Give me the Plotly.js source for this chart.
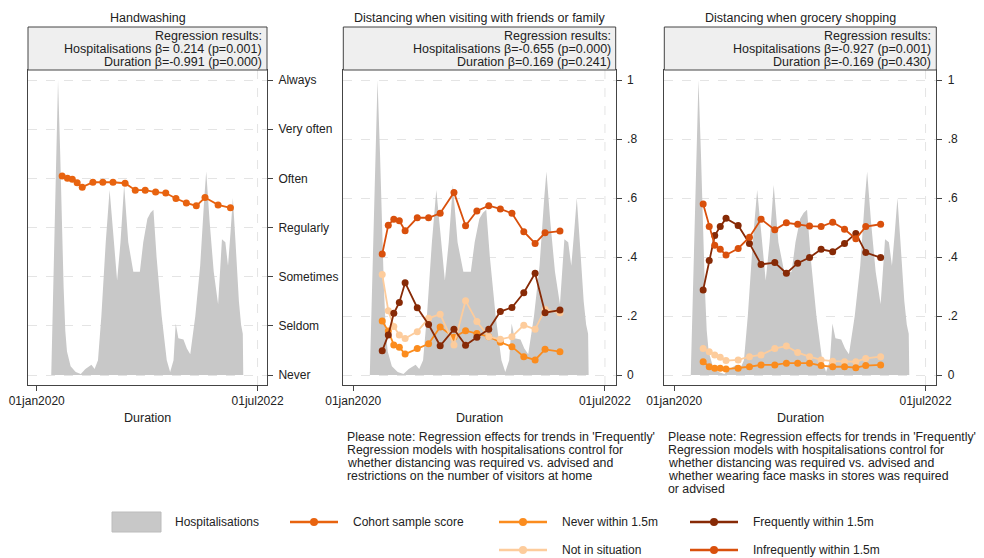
<!DOCTYPE html>
<html>
<head>
<meta charset="utf-8">
<script src="https://cdn.plot.ly/plotly-3.0.1.min.js"></script>
<style>html,body{margin:0;padding:0;background:#fff}#chart{width:984px;height:558px}</style>
</head>
<body>
<div id="chart"></div>
<script>
// ---------- DATA ----------
const hospDates = ['2020-03-01','2020-03-15','2020-03-29','2020-04-07','2020-04-14','2020-04-21','2020-04-28','2020-05-05','2020-05-20','2020-06-10','2020-07-01','2020-07-20','2020-08-14','2020-08-27','2020-09-10','2020-09-24','2020-10-12','2020-10-28','2020-11-12','2020-11-28','2020-12-12','2020-12-27','2021-01-13','2021-02-03','2021-02-16','2021-03-02','2021-03-16','2021-04-02','2021-04-15','2021-04-27','2021-05-10','2021-05-31','2021-06-21','2021-07-05','2021-07-19','2021-07-28','2021-08-08','2021-08-29','2021-09-12','2021-09-26','2021-10-17','2021-11-06','2021-11-23','2021-12-01','2021-12-15','2022-01-01','2022-01-19','2022-02-04','2022-02-18','2022-03-01','2022-03-11','2022-03-21','2022-04-01','2022-04-15','2022-04-24','2022-05-01','2022-05-03'];
const hospVals  = [0,0.5,1.0,0.75,0.5,0.3,0.15,0.08,0.03,0.01,0.003,0.02,0.035,0.02,0.05,0.2,0.45,0.627,0.48,0.32,0.45,0.644,0.45,0.35,0.35,0.35,0.45,0.53,0.55,0.56,0.4,0.2,0.05,0.01,0.05,0.175,0.125,0.12,0.09,0.07,0.2,0.37,0.6,0.69,0.52,0.35,0.24,0.46,0.45,0.37,0.48,0.6,0.45,0.25,0.17,0.14,0];

const waveDates = ['2020-04-15','2020-05-07','2020-05-27','2020-06-16','2020-07-07','2020-08-20','2020-09-30','2020-11-11','2020-12-31','2021-02-11','2021-03-24','2021-05-06','2021-06-17','2021-07-29','2021-09-10','2021-10-21','2021-11-26','2022-01-19','2022-03-11'];

// Handwashing cohort score (1 = Never ... 7 = Always)
const handwashScore = [5.05,5.00,4.98,4.91,4.82,4.92,4.92,4.92,4.90,4.76,4.76,4.72,4.70,4.59,4.50,4.44,4.61,4.46,4.40];
const handwashLabels = ['Never','Seldom','Sometimes','Regularly','Often','Very often','Always'];

// Distancing when visiting friends or family (proportions)
const visitInfrequently = [0.410,0.508,0.528,0.523,0.489,0.533,0.533,0.548,0.619,0.506,0.556,0.574,0.563,0.548,0.486,0.446,0.482,0.488];
const visitFrequently   = [0.082,0.136,0.209,0.246,0.313,0.228,0.171,0.099,0.155,0.101,0.128,0.155,0.215,0.229,0.279,0.345,0.211,0.220];
const visitNever        = [0.183,0.149,0.102,0.094,0.071,0.090,0.106,0.163,0.128,0.150,0.141,0.130,0.111,0.096,0.062,0.051,0.087,0.079];
const visitNotInSit     = [0.341,0.218,0.164,0.136,0.124,0.147,0.192,0.206,0.102,0.252,0.181,0.130,0.121,0.130,0.169,0.155,0.223,0.211];

// Distancing when grocery shopping (proportions)
const shopInfrequently = [0.580,0.503,0.440,0.426,0.407,0.429,0.467,0.528,0.492,0.516,0.511,0.505,0.503,0.518,0.494,0.462,0.503,0.511];
const shopFrequently   = [0.288,0.388,0.473,0.503,0.531,0.507,0.446,0.375,0.381,0.345,0.379,0.398,0.426,0.418,0.446,0.480,0.415,0.398];
const shopNotInSit     = [0.090,0.079,0.068,0.060,0.049,0.051,0.062,0.068,0.090,0.098,0.076,0.062,0.051,0.047,0.045,0.045,0.056,0.062];
const shopNever        = [0.045,0.028,0.023,0.023,0.020,0.023,0.028,0.034,0.034,0.040,0.040,0.040,0.032,0.028,0.028,0.025,0.032,0.034];

const propTicks = [0,0.2,0.4,0.6,0.8,1];
const propTickText = ['0','.2','.4','.6','.8','1'];
const dateTicks = ['2020-01-01','2022-07-01'];
const dateTickText = ['01jan2020','01jul2022'];

const panelTitles = ['Handwashing','Distancing when visiting with friends or family','Distancing when grocery shopping'];
const regLines = [
  ['Regression results:','Hospitalisations \u03b2= 0.214 (p=0.001)','Duration \u03b2=-0.991 (p=0.000)'],
  ['Regression results:','Hospitalisations \u03b2=-0.655 (p=0.000)','Duration \u03b2=0.169 (p=0.241)'],
  ['Regression results:','Hospitalisations \u03b2=-0.927 (p=0.001)','Duration \u03b2=-0.169 (p=0.430)']
];
const notes = [
  [],
  ["Please note: Regression effects for trends in 'Frequently'","Regression models with hospitalisations control for","whether distancing was required vs. advised and","restrictions on the number of visitors at home"],
  ["Please note: Regression effects for trends in 'Frequently'","Regression models with hospitalisations control for","whether distancing was required vs. advised and","whether wearing face masks in stores was required","or advised"]
];

const seriesNames = {hosp:'Hospitalisations', cohort:'Cohort sample score', never:'Never within 1.5m', freq:'Frequently within 1.5m', notin:'Not in situation', infreq:'Infrequently within 1.5m'};
const colors = {hosp:'#c8c8c8', cohort:'#e8630f', never:'#fb8c1e', freq:'#872a06', notin:'#fdcc9c', infreq:'#d9500c'};

// ---------- LAYOUT HELPERS ----------
const W = 984, H = 558;
const px = x => x / W;
const py = y => 1 - y / H;
const FONT = 'Liberation Sans, Arial, sans-serif';
const TXT = '#222222';
const AX = '#444444';

const panels = [
  {l:28, r:267, xa:'x', ya:'y'},
  {l:343.3, r:615.7, xa:'x2', ya:'y2'},
  {l:664.3, r:936.3, xa:'x3', ya:'y3'}
];
const plotTop = 70, plotBot = 385, headTop = 27;
const yRange = [-10/295, 1 + 10/295];
const xRange = ['2019-11-26','2022-08-09'];

// ---------- TRACES ----------
const traces = [];
function area(xa, ya) {
  traces.push({x: hospDates, y: hospVals, xaxis: xa, yaxis: ya, type:'scatter', mode:'lines',
    fill:'tozeroy', fillcolor: colors.hosp, line:{width:0, color: colors.hosp},
    name: seriesNames.hosp, showlegend:false, hoverinfo:'skip'});
}
function series(xs, ys, key, xa, ya) {
  traces.push({x: xs, y: ys, xaxis: xa, yaxis: ya, type:'scatter', mode:'lines+markers',
    line:{color: colors[key], width:1.8}, marker:{color: colors[key], size:7},
    name: seriesNames[key], showlegend:false});
}
area('x','y');
series(waveDates, handwashScore, 'cohort', 'x', 'y4');

const w18 = waveDates.slice(0, 18);
area('x2','y2');
series(w18, visitNever, 'never', 'x2', 'y2');
series(w18, visitNotInSit, 'notin', 'x2', 'y2');
series(w18, visitFrequently, 'freq', 'x2', 'y2');
series(w18, visitInfrequently, 'infreq', 'x2', 'y2');

area('x3','y3');
series(w18, shopNotInSit, 'notin', 'x3', 'y3');
series(w18, shopNever, 'never', 'x3', 'y3');
series(w18, shopFrequently, 'freq', 'x3', 'y3');
series(w18, shopInfrequently, 'infreq', 'x3', 'y3');

// ---------- AXES ----------
const layout = {
  width: W, height: H, margin:{l:0,r:0,t:0,b:0}, paper_bgcolor:'#fff', plot_bgcolor:'#fff',
  font:{family: FONT, size:12, color: TXT}, showlegend:false,
  shapes: [], annotations: []
};
const yDom = [py(plotBot), py(plotTop)];
panels.forEach((p, i) => {
  const n = i === 0 ? '' : String(i + 1);
  layout['xaxis' + n] = {
    domain:[px(p.l), px(p.r)], anchor: 'y' + n, type:'date', range: xRange,
    tickvals: dateTicks, ticktext: dateTickText, ticks:'outside', ticklen:5, tickcolor: AX,
    showline:true, mirror:true, linecolor: AX, linewidth:1, showgrid:false, zeroline:false,
    tickfont:{size:12, color: TXT}, fixedrange:true
  };
  const yax = {
    domain: yDom, anchor: 'x' + n, range: yRange, side:'right',
    showline:true, mirror:true, linecolor: AX, linewidth:1, zeroline:false, fixedrange:true,
    tickfont:{size:12, color: TXT}
  };
  if (i === 0) {
    Object.assign(yax, {showticklabels:false, ticks:'', showgrid:false});
  } else {
    Object.assign(yax, {tickvals: propTicks, ticktext: propTickText, ticks:'outside', ticklen:5, tickcolor: AX,
      showgrid:true, gridcolor:'#e4e4e4', griddash:'dash', gridwidth:1, ticklabelstandoff:3});
  }
  layout['yaxis' + n] = yax;

  // vertical dashed grid at 01jul2022
  layout.shapes.push({type:'line', xref: p.xa, yref: p.ya + ' domain', x0:'2022-07-01', x1:'2022-07-01', y0:0, y1:1,
    line:{color:'#e4e4e4', width:1, dash:'dash'}, layer:'below'});
  // header box
  layout.shapes.push({type:'rect', xref:'paper', yref:'paper', x0:px(p.l), x1:px(p.r), y0:py(plotTop), y1:py(headTop),
    fillcolor:'#efefef', line:{color: AX, width:1}});

  // title
  layout.annotations.push({text: panelTitles[i], xref:'paper', yref:'paper', x: px((p.l + p.r) / 2), y: py(17.5),
    xanchor:'center', yanchor:'middle', showarrow:false, font:{size:12.5, color: TXT}});
  // regression text
  [36, 49, 62].forEach((yy, k) => {
    layout.annotations.push({text: regLines[i][k], xref:'paper', yref:'paper', x: px(p.r - 3), y: py(yy),
      xanchor:'right', yanchor:'middle', showarrow:false, font:{size:12.5, color: TXT}});
  });
  // x title
  layout.annotations.push({text:'Duration', xref:'paper', yref:'paper', x: px((p.l + p.r) / 2), y: py(418),
    xanchor:'center', yanchor:'middle', showarrow:false, font:{size:12.5, color: TXT}});
  // notes
  notes[i].forEach((t, k) => {
    layout.annotations.push({text: t, xref:'paper', yref:'paper', x: px(p.l + 2), y: py(437 + 13 * k),
      xanchor:'left', yanchor:'middle', showarrow:false, font:{size:12.3, color: TXT}});
  });
});

// Handwashing scale axis (1..7) overlaying panel 1
layout.yaxis4 = {
  overlaying:'y', anchor:'x', side:'right', range:[1 + 6 * yRange[0], 1 + 6 * yRange[1]],
  tickvals:[1,2,3,4,5,6,7], ticktext: handwashLabels, ticks:'outside', ticklen:5, tickcolor: AX,
  showgrid:true, gridcolor:'#e4e4e4', griddash:'dash', gridwidth:1, showline:false, zeroline:false,
  tickfont:{size:12, color: TXT}, ticklabelstandoff:3, fixedrange:true
};

// ---------- LEGEND (drawn as key swatches + text) ----------
layout.shapes.push({type:'rect', xref:'paper', yref:'paper', x0:px(112), x1:px(161), y0:py(532), y1:py(512),
  fillcolor: colors.hosp, line:{color:'#bcbcbc', width:1}});
layout.annotations.push({text: seriesNames.hosp, xref:'paper', yref:'paper', x:px(173), y:py(522),
  xanchor:'left', yanchor:'middle', showarrow:false, font:{size:12, color: TXT}});
const legendItems = [
  {key:'cohort', x0:290, y:522},
  {key:'never',  x0:499, y:522},
  {key:'freq',   x0:690, y:522},
  {key:'notin',  x0:499, y:550},
  {key:'infreq', x0:690, y:550}
];
legendItems.forEach(it => {
  const c = colors[it.key];
  layout.shapes.push({type:'line', xref:'paper', yref:'paper', x0:px(it.x0), x1:px(it.x0 + 48), y0:py(it.y), y1:py(it.y),
    line:{color:c, width:2.5}});
  const cx = it.x0 + 24, r = 4;
  layout.shapes.push({type:'circle', xref:'paper', yref:'paper', x0:px(cx - r), x1:px(cx + r), y0:py(it.y + r), y1:py(it.y - r),
    fillcolor:c, line:{color:c, width:0}});
  layout.annotations.push({text: seriesNames[it.key], xref:'paper', yref:'paper', x:px(it.x0 + 61), y:py(it.y),
    xanchor:'left', yanchor:'middle', showarrow:false, font:{size:12, color: TXT}});
});

Plotly.newPlot('chart', traces, layout, {displayModeBar:false, staticPlot:true});
</script>
</body>
</html>
